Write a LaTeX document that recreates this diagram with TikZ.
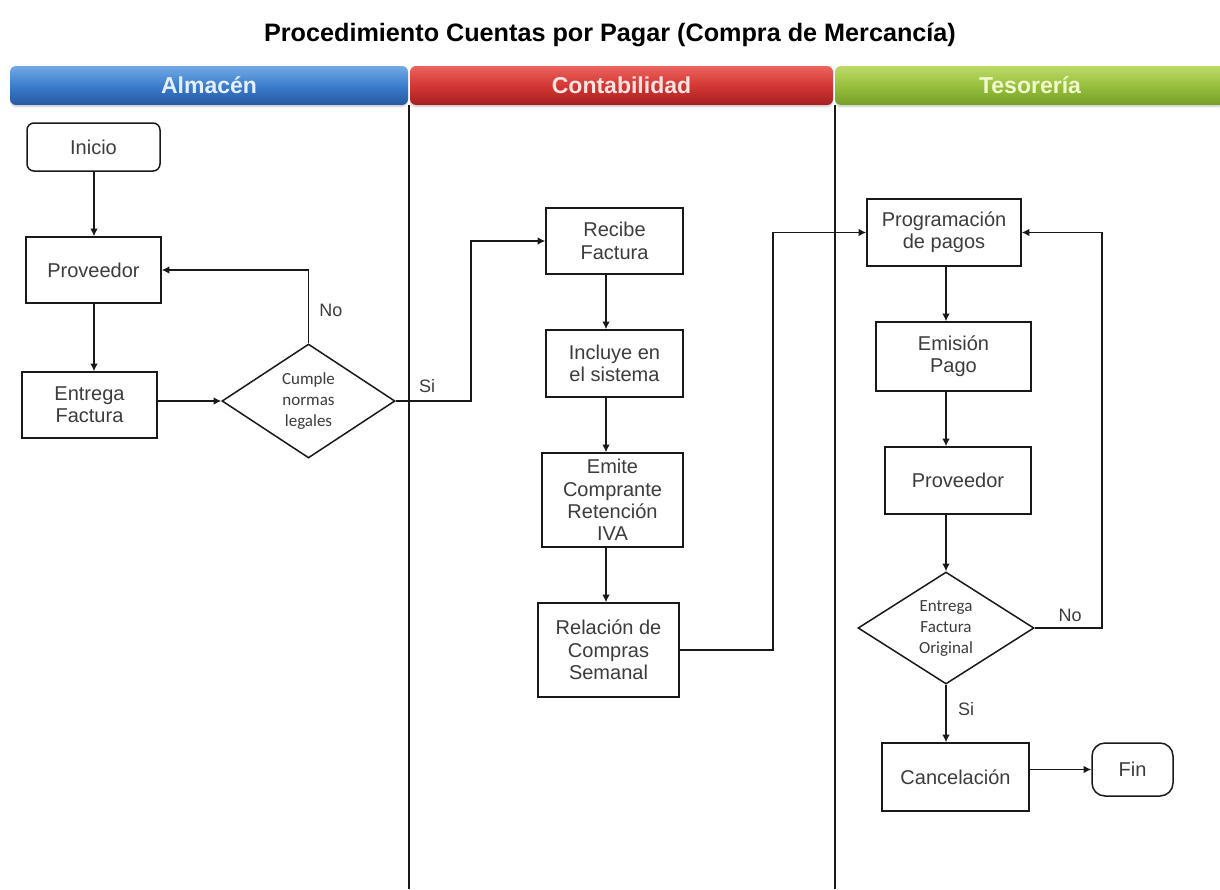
\documentclass[tikz,border=0pt]{standalone}
\usepackage{fontspec}
\setmainfont{Liberation Sans}
\newfontfamily\calib{Carlito}
\usetikzlibrary{shapes.geometric,arrows.meta,calc,shadows}
\definecolor{txt}{RGB}{60,60,60}
\definecolor{ln}{RGB}{25,25,25}
\definecolor{bluetop}{RGB}{115,170,228}
\definecolor{bluemid}{RGB}{60,125,205}
\definecolor{bluebot}{RGB}{38,88,160}
\definecolor{redtop}{RGB}{235,100,95}
\definecolor{redmid}{RGB}{212,55,52}
\definecolor{redbot}{RGB}{165,32,32}
\definecolor{greentop}{RGB}{190,218,105}
\definecolor{greenmid}{RGB}{152,192,62}
\definecolor{greenbot}{RGB}{118,158,40}
\begin{document}
\begin{tikzpicture}[x=0.5pt,y=-0.5pt,
  lane/.style={rectangle,rounded corners=3pt,minimum height=19.5pt,inner sep=0pt,
    font=\bfseries\fontsize{11.5}{13}\selectfont,shading=axis,
    drop shadow={shadow xshift=0pt,shadow yshift=-1.2pt,opacity=0.25}},
  box/.style={draw=ln,line width=0.75pt,rectangle,align=center,text=txt,
    font=\fontsize{10}{11.2}\selectfont,inner sep=1pt},
  term/.style={box,rounded corners=3.5pt},
  dec/.style={draw=ln,line width=0.75pt,diamond,align=center,text=txt,inner sep=0pt,
    font=\calib\fontsize{8.5}{10.5}\selectfont},
  arr/.style={draw=ln,line width=0.75pt,-{Latex[length=3.8pt,width=3.8pt]}},
  lbl/.style={text=txt,font=\fontsize{9}{10}\selectfont,inner sep=1pt},
  divider/.style={draw=ln,line width=0.75pt}]
\clip (0,0) rectangle (1220,889);
\fill[white] (0,0) rectangle (1220,889);
% title
\node[font=\bfseries\fontsize{12.6}{14}\selectfont,text=black] (title) at (610,35)
  {Procedimiento Cuentas por Pagar (Compra de Mercancía)};
% lane headers
\node[lane,minimum width=199pt,top color=bluetop,bottom color=bluebot,middle color=bluemid,
  text={rgb,255:red,228;green,240;blue,252}] (h1) at (209,85.5) {Almacén};
\node[lane,minimum width=211.5pt,top color=redtop,bottom color=redbot,middle color=redmid,
  text={rgb,255:red,252;green,228;blue,226}] (h2) at (621.5,85.5) {Contabilidad};
\node[lane,minimum width=195pt,top color=greentop,bottom color=greenbot,middle color=greenmid,
  text={rgb,255:red,242;green,250;blue,205}] (h3) at (1030,85.5) {Tesorería};
% dividers
\coordinate (d1t) at (409,105); \coordinate (d1b) at (409,889);
\coordinate (d2t) at (835,105); \coordinate (d2b) at (835,889);
\draw[divider] (d1t) -- (d1b);
\draw[divider] (d2t) -- (d2b);
% Almacen
\node[term,minimum width=66.5pt,minimum height=24pt] (inicio) at (93.5,147) {Inicio};
\node[box,minimum width=67.5pt,minimum height=33pt] (prov1) at (93.5,270) {Proveedor};
\node[box,minimum width=67.5pt,minimum height=33pt] (entrega) at (89.5,405) {Entrega\\Factura};
\node[dec,minimum width=86.5pt,minimum height=57pt] (cumple) at (308.5,401) {Cumple\\normas\\legales};
% Contabilidad
\node[box,minimum width=68.5pt,minimum height=33pt] (recibe) at (614.5,241) {Recibe\\Factura};
\node[box,minimum width=68.5pt,minimum height=33.5pt] (incluye) at (614.5,363.5) {Incluye en\\el sistema};
\node[box,minimum width=70.5pt,minimum height=47pt] (emite) at (612.5,500) {Emite\\Comprante\\Retención\\IVA};
\node[box,minimum width=70.5pt,minimum height=47pt] (relacion) at (608.5,650) {Relación de\\Compras\\Semanal};
% Tesoreria
\node[box,minimum width=77pt,minimum height=33.5pt] (prog) at (944,232.5) {Programación\\de pagos};
\node[box,minimum width=77.5pt,minimum height=34.5pt] (emision) at (953.5,356.5) {Emisión\\Pago};
\node[box,minimum width=73pt,minimum height=33.5pt] (prov2) at (958,480.5) {Proveedor};
\node[dec,minimum width=88pt,minimum height=56pt] (entorig) at (946,628) {Entrega\\Factura\\Original};
\node[box,minimum width=73.5pt,minimum height=34pt] (cancel) at (955.5,777) {Cancelación};
\node[term,rounded corners=6.5pt,minimum width=40.5pt,minimum height=26.5pt] (fin) at (1132.5,769.5) {Fin};
% helper coordinates
\coordinate (cx1) at (94,0);
\coordinate (cx2) at (606,0);
\coordinate (cx3) at (946,0);
\coordinate (j1) at (471,401);
\coordinate (j2) at (773,650);
\coordinate (j3) at (1102,628);
% connectors Almacen
\draw[arr] (inicio.south -| cx1) -- (prov1.north -| cx1);
\draw[arr] (prov1.south -| cx1) -- (entrega.north -| cx1);
\draw[arr] (entrega.east |- cumple.west) -- (cumple.west);
\draw[arr] (cumple.north) -- (cumple.north |- prov1.east) -- (prov1.east);
\node[lbl,anchor=west] (no1) at (317,310) {No};
\draw[arr] (cumple.east) -- (j1) |- (recibe.west);
\node[lbl] (si1) at (427,386) {Si};
% Contabilidad
\draw[arr] (recibe.south -| cx2) -- (incluye.north -| cx2);
\draw[arr] (incluye.south -| cx2) -- (emite.north -| cx2);
\draw[arr] (emite.south -| cx2) -- (relacion.north -| cx2);
\draw[arr] (relacion.east) -- (j2) |- (prog.west);
% Tesoreria
\draw[arr] (prog.south -| cx3) -- (emision.north -| cx3);
\draw[arr] (emision.south -| cx3) -- (prov2.north -| cx3);
\draw[arr] (prov2.south -| cx3) -- (entorig.north);
\draw[arr] (entorig.east) -- (j3) |- (prog.east);
\node[lbl] (no2) at (1070,615) {No};
\draw[arr] (entorig.south) -- (entorig.south |- cancel.north);
\node[lbl] (si2) at (966,709) {Si};
\draw[arr] (cancel.east |- fin.west) -- (fin.west);
\end{tikzpicture}
\end{document}
